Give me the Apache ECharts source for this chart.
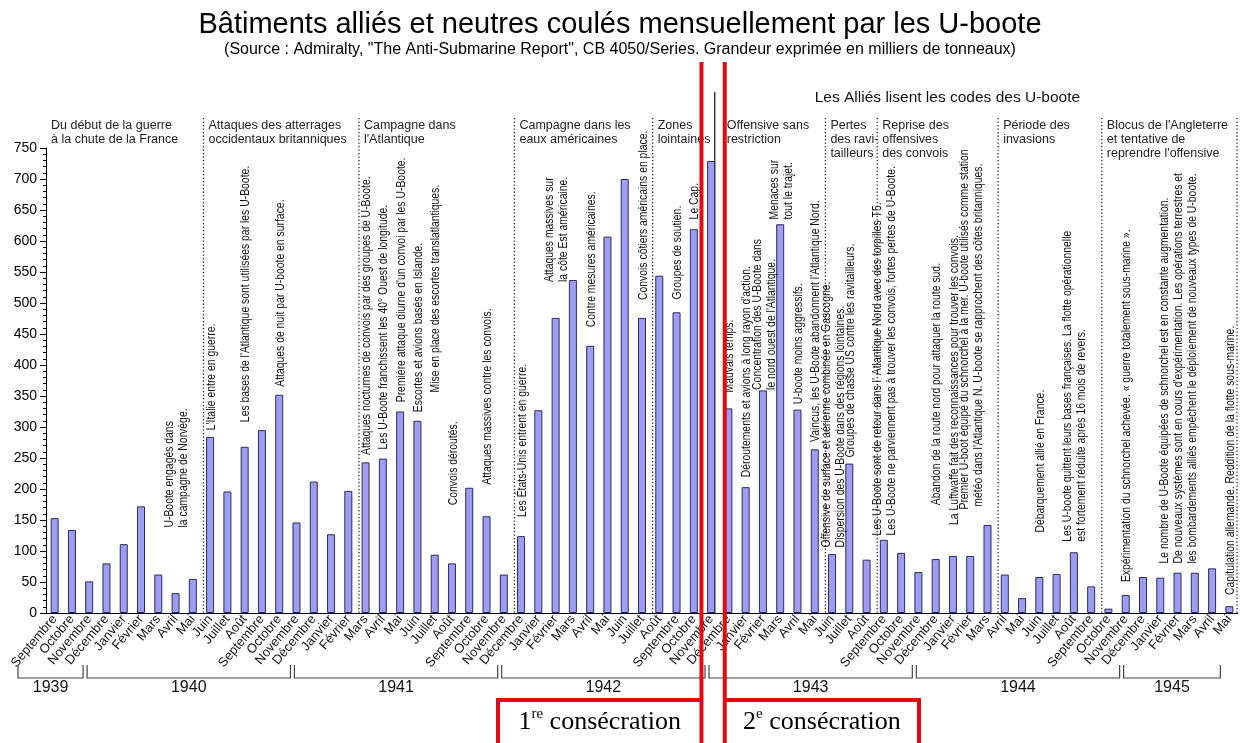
<!DOCTYPE html>
<html>
<head>
<meta charset="utf-8">
<script src="https://cdn.jsdelivr.net/npm/echarts@6.0.0/dist/echarts.min.js"></script>
<style>
html, body { margin: 0; padding: 0; background: #fff; }
#chart_plot_01 { width: 1240px; height: 743px; }
</style>
</head>
<body>
<div id="chart_plot_01"></div>
<script>
// mois et années
const monthNames = ['Janvier', 'Février', 'Mars', 'Avril', 'Mai', 'Juin', 'Juillet', 'Août', 'Septembre', 'Octobre', 'Novembre', 'Décembre'];
const yearLabels = ['1939', '1940', '1941', '1942', '1943', '1944', '1945'];
const yearFirstMonth = [8, 0, 0, 0, 0, 0, 0];
const yearLastMonth = [11, 11, 11, 11, 11, 11, 4];

// milliers de tonneaux coulés par mois (sept. 1939 -> mai 1945)
const tonnage = [
  153, 134, 51, 80,
  111, 172, 62, 32, 55, 284, 196, 268, 295, 352, 146, 212,
  127, 197, 243, 249, 325, 310, 94, 80, 202, 156, 62, 124,
  327, 476, 537, 431, 607, 700, 476, 544, 485, 619, 729, 330,
  203, 359, 627, 328, 264, 95, 241, 86, 118, 97, 66, 87,
  92, 92, 142, 62, 24, 58, 63, 98, 43, 7, 29, 58,
  57, 65, 65, 72, 11
];

const yTicks = [0, 750, 50];

// périodes : premier mois, titre
const periods = [
  ['Septembre 1939', 'Du début de la guerre\nà la chute de la France'],
  ['Juin 1940', 'Attaques des atterrages\noccidentaux britanniques'],
  ['Mars 1941', 'Campagne dans\nl\'Atlantique'],
  ['Décembre 1941', 'Campagne dans les\neaux américaines'],
  ['Août 1942', 'Zones\nlointaines'],
  ['Décembre 1942', 'Offensive sans\nrestriction'],
  ['Juin 1943', 'Pertes\ndes ravi-\ntailleurs'],
  ['Septembre 1943', 'Reprise des\noffensives\ndes convois'],
  ['Avril 1944', 'Période des\ninvasions'],
  ['Octobre 1944', 'Blocus de l\'Angleterre\net tentative de\nreprendre l\'offensive']
];

const codesMonth = 'Décembre 1942';
const codesText = 'Les Alliés lisent les codes des U-boote';

// notes : mois, niveau (milliers de tonneaux) où commence le texte, texte
const notes = [
  ['Avril 1940', 133, 'U-Boote engagés dans\nla campagne de Norvège.'],
  ['Juin 1940', 290, 'L\'Italie entre en guerre.'],
  ['Août 1940', 303, 'Les bases de l\'Atlantique sont utilisées par les U-Boote.'],
  ['Octobre 1940', 360, 'Attaques de nuit par U-boote en surface.'],
  ['Mars 1941', 250, 'Attaques nocturnes de convois par des groupes de U-Boote.'],
  ['Avril 1941', 259, 'Les U-Boote franchissent les 40° Ouest de longitude.'],
  ['Mai 1941', 335, 'Première attaque diurne d\'un convoi par les U-Boote.'],
  ['Juin 1941', 319, 'Escortes et avions basés en Islande.'],
  ['Juillet 1941', 351, 'Mise en place des escortes translatlantiques.'],
  ['Août 1941', 169, 'Convois déroutés.'],
  ['Octobre 1941', 202, 'Attaques massives contre les convois.'],
  ['Décembre 1941', 150, 'Les États-Unis entrent en guerre.'],
  ['Février 1942', 529, 'Attaques massives sur\nla côte Est américaine.'],
  ['Avril 1942', 456, 'Contre mesures américaines.'],
  ['Juillet 1942', 500, 'Convois côtiers américains en place.'],
  ['Septembre 1942', 501, 'Groupes de soutien.'],
  ['Octobre 1942', 630, 'Le Cap.'],
  ['Décembre 1942', 351, 'Mauvais temps.'],
  ['Janvier 1943', 214, 'Déroutements et avions à long rayon d\'action.'],
  ['Février 1943', 355, 'Concentration des U-Boote dans\nle nord ouest de l\'Atlantique.'],
  ['Mars 1943', 630, 'Menaces sur\ntout le trajet.'],
  ['Avril 1943', 332, 'U-boote moins aggressifs.'],
  ['Mai 1943', 271, 'Vaincus, les U-Boote abandonnent l\'Atlantique Nord.'],
  ['Juin 1943', 101, 'Offensive de surface et aérienne combinée en Gascogne.\nDispersion des U-Boote dans des régions lointaines.'],
  ['Juillet 1943', 246, 'Groupes de chasse US contre les ravitailleurs.'],
  ['Septembre 1943', 120, 'Les U-Boote sont de retour dans l\' Atlantique Nord avec des torpilles T5.\nLes U-Boote ne parviennent pas à trouver les convois, fortes pertes de U-Boote.'],
  ['Décembre 1943', 169, 'Abandon de la route nord pour attaquer la route sud.'],
  ['Janvier 1944', 137, 'La Luftwaffe fait des reconnaissances pour trouver les convois.'],
  ['Février 1944', 162, 'Premier U-boot équipé du schnorchel à la mer. U-boote utilisés comme station\n météo dans l\'Atlantique N. U-boote se rapprochent des côtes britanniques.'],
  ['Juin 1944', 125, 'Débarquement allié en France.'],
  ['Août 1944', 110, 'Les U-boote quittent leurs bases françaises. La flotte opérationnelle\nest fortement réduite après 16 mois de revers.'],
  ['Novembre 1944', 45, 'Expérimentation du schnorchel achevée. « guerre totalement sous-marine ».'],
  ['Février 1945', 75, 'Le nombre de U-Boote équipées de schnorchel est en constante augmentation.\nDe nouveaux systèmes sont en cours d\'expérimentation. Les opérations terrestres et\nles bombardements alliés empêchent le déploiement de nouveaux types de U-boote.'],
  ['Mai 1945', 24, 'Capitulation allemande. Reddition de la flotte sous-marine.']
];

// catégories "Mois Année"
let categories = [];
let yearStart = [];
let yearEnd = [];
for (let y = 0; y < yearLabels.length; y++) {
  yearStart.push(categories.length);
  for (let m = yearFirstMonth[y]; m <= yearLastMonth[y]; m++) {
    categories.push(monthNames[m] + ' ' + yearLabels[y]);
  }
  yearEnd.push(categories.length - 1);
}

const sans = "'Liberation Sans', Arial, sans-serif";
const serif = "'Liberation Serif', 'Times New Roman', serif";

let myChart = echarts.init(document.getElementById('chart_plot_01'));

let option = {
  animation: false,
  title: {
    text: 'Bâtiments alliés et neutres coulés mensuellement par les U-boote',
    subtext: '(Source : Admiralty, "The Anti-Submarine Report", CB 4050/Series. Grandeur exprimée en milliers de tonneaux)',
    left: 'center',
    top: 5,
    itemGap: 3,
    textStyle: { fontFamily: sans, fontSize: 29, fontWeight: 'normal', color: '#000' },
    subtextStyle: { fontFamily: sans, fontSize: 16, color: '#000' }
  },
  grid: { left: 46, right: 2, top: 148, bottom: 130 },
  xAxis: {
    type: 'category',
    data: categories,
    axisLine: { lineStyle: { color: '#000', width: 1 } },
    axisTick: { length: 5, lineStyle: { color: '#000' } },
    axisLabel: {
      interval: 0,
      rotate: 50,
      margin: 4,
      fontFamily: sans,
      fontSize: 13,
      color: '#111',
      formatter: function (v) { return v.split(' ')[0]; }
    }
  },
  yAxis: {
    type: 'value',
    min: yTicks[0],
    max: yTicks[1],
    interval: yTicks[2],
    axisLine: { show: true, lineStyle: { color: '#000', width: 1 } },
    axisTick: { show: true, length: 6, lineStyle: { color: '#000' } },
    minorTick: { show: true, splitNumber: 5, length: 3, lineStyle: { color: '#000' } },
    splitLine: { show: false },
    axisLabel: { fontFamily: sans, fontSize: 14, color: '#000', margin: 9 }
  },
  series: [
    {
      type: 'bar',
      data: tonnage,
      barWidth: 8,
      silent: true,
      z: 3,
      itemStyle: { color: '#9d9df3', borderColor: '#2c2c5c', borderWidth: 1 }
    }
  ]
};

myChart.setOption(option);

// éléments graphiques placés via les axes
function px(i) { return myChart.convertToPixel({ xAxisIndex: 0 }, i); }
function py(v) { return myChart.convertToPixel({ yAxisIndex: 0 }, v); }

function buildGraphic() {
  let g = [];
  const bw = px(1) - px(0);
  const bd = function (i) { return px(i) - bw / 2; };
  const y0 = py(0);
  const topY = 118;

  function txt(x, y, text, size, fill, align, valign, lh, rot, sx) {
    return {
      type: 'text', x: x, y: y, rotation: rot || 0, scaleX: sx || 1, z: 10, silent: true,
      style: {
        text: text, fill: fill, fontSize: size, fontFamily: sans,
        align: align, textAlign: align, verticalAlign: valign, textVerticalAlign: valign,
        lineHeight: lh
      }
    };
  }
  function line(x1, y1, x2, y2, color, width, dash, z) {
    return {
      type: 'line', z: z || 1, silent: true,
      shape: { x1: x1, y1: y1, x2: x2, y2: y2 },
      style: { stroke: color, lineWidth: width, lineDash: dash || null }
    };
  }

  // périodes
  periods.forEach(function (p, k) {
    const i = categories.indexOf(p[0]);
    let x = k === 0 ? bd(0) : bd(i) + 2;
    if (k > 0 && p[0] !== codesMonth) {
      g.push(line(x, topY, x, y0, '#222', 1.3, [1.3, 2.2]));
    }
    g.push(txt(x + 5, topY + 1, p[1], 12.5, '#222', 'left', 'top', 14));
  });
  // fin
  let xEnd = bd(categories.length) - 1;
  g.push(line(xEnd, topY, xEnd, y0, '#222', 1.3, [1.3, 2.2]));

  // lecture des codes
  const ci = categories.indexOf(codesMonth);
  const xc = bd(ci) - 5;
  g.push(line(xc, 92, xc, y0, '#222', 1.3, null, 1));
  g.push(txt(xc + 100, 98, codesText, 15.5, '#111', 'left', 'middle', 16));

  // notes verticales (texte condensé)
  notes.forEach(function (n) {
    const i = categories.indexOf(n[0]);
    g.push(txt(px(i) + 1, py(n[1]) - 3, n[2], 13, '#111', 'left', 'middle', 14, Math.PI / 2, 0.8));
  });

  // accolades des années
  for (let y = 0; y < yearLabels.length; y++) {
    let x0 = bd(yearStart[y]) - 30 + 2;
    let x1 = bd(yearEnd[y] + 1) - 30 - 2;
    if (y === yearLabels.length - 1) x1 = px(yearEnd[y]) - 9;
    g.push({
      type: 'polyline', silent: true, z: 1,
      shape: { points: [[x0, 665], [x0, 678], [x1, 678], [x1, 665]] },
      style: { stroke: '#444', lineWidth: 1.2, fill: null }
    });
    g.push(txt((x0 + x1) / 2, 688, yearLabels[y], 16, '#111', 'center', 'middle', 18));
  }

  // consécrations (traits rouges)
  const red = '#e4080f';
  const xr1 = bd(38) - 1;
  const xr2 = bd(39) + 5;
  g.push(line(xr1, 62, xr1, 745, red, 4, null, 20));
  g.push(line(xr2, 62, xr2, 745, red, 4, null, 20));
  g.push({
    type: 'polyline', silent: true, z: 20,
    shape: { points: [[xr1, 700], [498, 700], [498, 750]] },
    style: { stroke: red, lineWidth: 4, fill: null }
  });
  g.push({
    type: 'polyline', silent: true, z: 20,
    shape: { points: [[xr2, 700], [919, 700], [919, 750]] },
    style: { stroke: red, lineWidth: 4, fill: null }
  });
  const rich = {
    n: { fontFamily: serif, fontSize: 26, color: '#d4121a', lineHeight: 30 },
    s: { fontFamily: serif, fontSize: 15, color: '#d4121a', verticalAlign: 'top', lineHeight: 15 }
  };
  [['1', 're', (498 + xr1) / 2], ['2', 'e', (xr2 + 919) / 2]].forEach(function (b) {
    g.push({
      type: 'text', x: b[2], y: 722, z: 21, silent: true,
      style: {
        text: '{n|' + b[0] + '}{s|' + b[1] + '}{n| consécration}',
        rich: rich, align: 'center', textAlign: 'center',
        verticalAlign: 'middle', textVerticalAlign: 'middle'
      }
    });
  });

  return g;
}

myChart.setOption({ graphic: buildGraphic() });
</script>
</body>
</html>
